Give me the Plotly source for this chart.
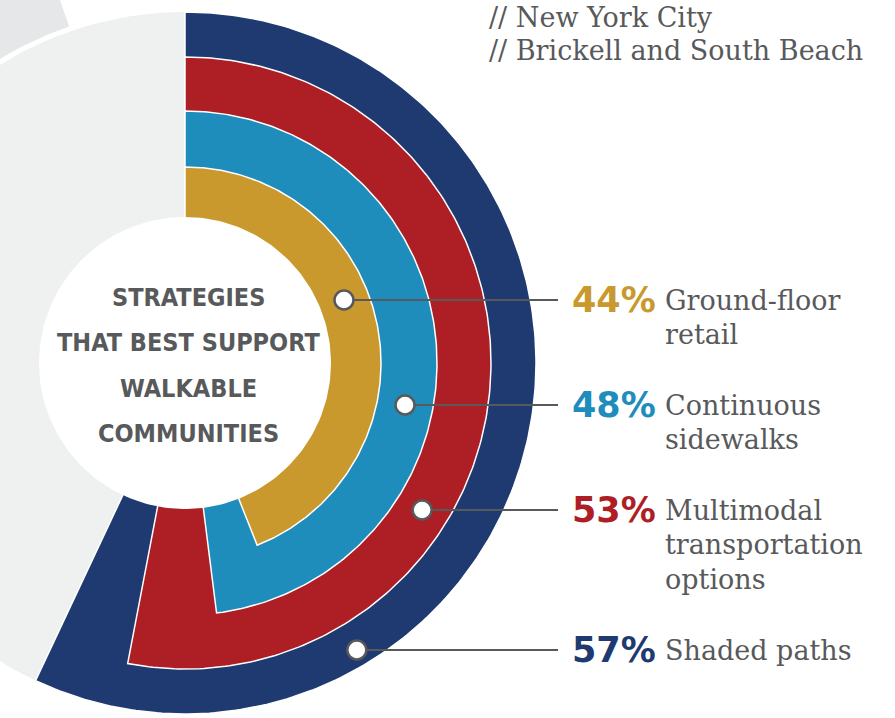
import numpy as np
import plotly.graph_objects as go

# ---------------- data ----------------
categories = ["Ground-floor<br>retail", "Continuous<br>sidewalks",
              "Multimodal<br>transportation<br>options", "Shaded paths"]
percents = [44, 48, 53, 57]
pct_labels = ["44%", "48%", "53%", "57%"]
title_lines = ["STRATEGIES", "THAT BEST SUPPORT", "WALKABLE", "COMMUNITIES"]
header_lines = ["// New York City", "// Brickell and South Beach"]

# ---------------- style ----------------
colors = ["#c9992e", "#1f8dbb", "#ad1f24", "#1f3a70"]
TEXT_GRAY = "#58595b"
BG_LIGHT = "#eff1f1"
BG_DARK = "#e6e7e9"
R_INNER = 146
R_OUTER = [196, 252, 306, 351]
ROW_Y = [63, -42, -147, -287]
LINE_STEP = 34.5
LINE_END_X = 373
PCT_X = 385
LABEL_X = 478
W, H = 895, 718
CX, CY = 185, 363  # pixel position of centre


def sector(r0, r1, a0, a1, n=240):
    t = np.radians(np.linspace(a0, a1, n))
    xo, yo = r1 * np.sin(t), r1 * np.cos(t)
    if r0 > 0:
        xi, yi = r0 * np.sin(t[::-1]), r0 * np.cos(t[::-1])
    else:
        xi, yi = np.array([0.0]), np.array([0.0])
    x = np.concatenate([xo, xi, xo[:1]])
    y = np.concatenate([yo, yi, yo[:1]])
    return x, y


fig = go.Figure()


def add_poly(x, y, fill, line_color=None, lw=0):
    fig.add_trace(go.Scatter(
        x=x, y=y, mode="lines", fill="toself", fillcolor=fill,
        line=dict(color=line_color or fill, width=lw),
        hoverinfo="skip", showlegend=False))


# decorative backgrounds
x, y = sector(356, 700, 290, 341)
add_poly(x, y, BG_DARK)
x, y = sector(0, R_OUTER[-1], 0, 360)
add_poly(x, y, BG_LIGHT)

# sectors, largest first
for i in range(len(percents) - 1, -1, -1):
    ang = percents[i] / 100 * 360
    x, y = sector(R_INNER - 5, R_OUTER[i], 0, ang)
    add_poly(x, y, colors[i], "white", 1.5)

# centre white disc
x, y = sector(0, R_INNER, 0, 360)
add_poly(x, y, "white")

# connectors + dots
inner_edges = [R_INNER] + R_OUTER[:-1]
dot_x, dot_y = [], []
for i in range(len(percents)):
    rmid = (inner_edges[i] + R_OUTER[i]) / 2 + (6 if i == len(percents) - 1 else 0)
    yy = ROW_Y[i]
    xx = float(np.sqrt(max(rmid ** 2 - yy ** 2, 0)))
    dot_x.append(xx)
    dot_y.append(yy)
    fig.add_trace(go.Scatter(x=[xx, LINE_END_X], y=[yy, yy], mode="lines",
                             line=dict(color=TEXT_GRAY, width=2),
                             hoverinfo="skip", showlegend=False))
fig.add_trace(go.Scatter(x=dot_x, y=dot_y, mode="markers",
                         marker=dict(size=19, color="white",
                                     line=dict(color=TEXT_GRAY, width=2.5)),
                         hoverinfo="skip", showlegend=False))

# labels
for i in range(len(percents)):
    fig.add_annotation(x=PCT_X, y=ROW_Y[i], text=pct_labels[i], showarrow=False,
                       xanchor="left", yanchor="middle",
                       font=dict(family="DejaVu Sans", size=35, color=colors[i], weight="bold"))
    for k, part in enumerate(categories[i].split("<br>")):
        fig.add_annotation(x=LABEL_X, y=ROW_Y[i] - k * LINE_STEP, text=part, showarrow=False,
                           xanchor="left", yanchor="middle",
                           font=dict(family="DejaVu Serif", size=27, color=TEXT_GRAY))

# centre title
for k, line in enumerate(title_lines):
    fig.add_annotation(x=3, y=66 - k * 45.5, text=line, showarrow=False,
                       xanchor="center", yanchor="middle",
                       font=dict(family="DejaVu Sans Condensed, sans-serif",
                                 size=25, color=TEXT_GRAY, weight="bold"))

# header
for k, line in enumerate(header_lines):
    fig.add_annotation(x=302, y=CY - 17 - k * 33, text=line, showarrow=False,
                       xanchor="left", yanchor="middle",
                       font=dict(family="DejaVu Serif", size=27, color=TEXT_GRAY))

fig.update_layout(
    width=W, height=H, margin=dict(l=0, r=0, t=0, b=0),
    paper_bgcolor="white", plot_bgcolor="white",
    xaxis=dict(range=[-CX, W - CX], visible=False, fixedrange=True),
    yaxis=dict(range=[-(H - CY), CY], visible=False, fixedrange=True),
    showlegend=False,
)
fig.write_html("out.html", config={"displayModeBar": False},
               post_script="document.body.style.margin='0px';")
